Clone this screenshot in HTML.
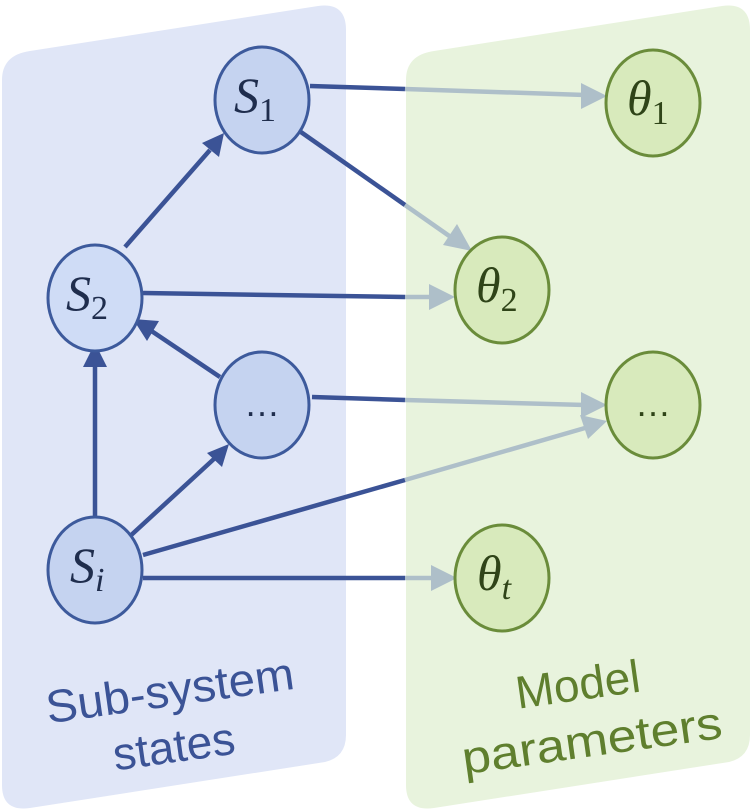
<!DOCTYPE html>
<html><head><meta charset="utf-8"><style>html,body{margin:0;padding:0;background:#fff}svg{display:block}</style></head>
<body>
<svg width="752" height="811" viewBox="0 0 752 811" xmlns="http://www.w3.org/2000/svg">
<path d="M30,51 L318,6 Q346,2 346,30 L346,735 Q346,757 325,762 L30,808 Q2,812 2,785 L2,80 Q2,55 30,51 Z" fill="#e0e6f7"/>
<path d="M434,51 L722,6 Q750,2 750,30 L750,735 Q750,757 729,762 L434,808 Q406,812 406,785 L406,80 Q406,55 434,51 Z" fill="#e8f3dd"/>
<g stroke-width="4.5" fill="none">
<line x1="310" y1="86" x2="405" y2="89" stroke="#3b5396"/><line x1="405" y1="89" x2="585" y2="95" stroke="#aebfc9"/>
<line x1="298" y1="130" x2="405" y2="205" stroke="#3b5396"/><line x1="405" y1="205" x2="455" y2="240" stroke="#aebfc9"/>
<line x1="143" y1="293" x2="405" y2="297" stroke="#3b5396"/><line x1="405" y1="297" x2="433" y2="297" stroke="#aebfc9"/>
<line x1="312" y1="397" x2="405" y2="400" stroke="#3b5396"/><line x1="405" y1="400" x2="585" y2="405" stroke="#aebfc9"/>
<line x1="143" y1="555" x2="405" y2="480" stroke="#3b5396"/><line x1="405" y1="480" x2="585" y2="428" stroke="#aebfc9"/>
<line x1="143" y1="578" x2="405" y2="578" stroke="#3b5396"/><line x1="405" y1="578" x2="435" y2="578" stroke="#aebfc9"/>
<line x1="125" y1="247" x2="210" y2="150" stroke="#3b5396"/>
<line x1="220" y1="377" x2="150" y2="330" stroke="#3b5396"/>
<line x1="95" y1="522" x2="95" y2="365" stroke="#3b5396"/>
<line x1="128" y1="538" x2="215" y2="458" stroke="#3b5396"/>
</g>
<g fill="#aebfc9">
<path d="M607,96 L581,83 L581,109 Z"/>
<path d="M472,251 L443,245 L457,224 Z"/>
<path d="M455,297 L429,284 L429,310 Z"/>
<path d="M607,405 L581,392 L581,418 Z"/>
<path d="M607,421 L580,415 L588,439 Z"/>
<path d="M457,578 L431,565 L431,591 Z"/>
</g>
<g fill="#3b5396">
<path d="M224,133 L202,143 L219,157 Z"/>
<path d="M133,319 L159,321 L147,341 Z"/>
<path d="M95,343 L83,367 L107,367 Z"/>
<path d="M229,444 L207,453 L222,467 Z"/>
</g>
<g stroke-width="3">
<ellipse cx="262" cy="100" rx="47" ry="53" fill="#c5d3f0" stroke="#3d5a9c"/>
<ellipse cx="95" cy="298" rx="47" ry="53" fill="#cfdcf6" stroke="#3d5a9c"/>
<ellipse cx="262" cy="405" rx="47" ry="53" fill="#c5d3f0" stroke="#3d5a9c"/>
<ellipse cx="95" cy="570" rx="47" ry="53" fill="#c5d3f0" stroke="#3d5a9c"/>
<ellipse cx="653" cy="103" rx="47" ry="53" fill="#d8eabc" stroke="#6a8c3a"/>
<ellipse cx="502" cy="290" rx="47" ry="53" fill="#d8eabc" stroke="#6a8c3a"/>
<ellipse cx="653" cy="405" rx="47" ry="53" fill="#d8eabc" stroke="#6a8c3a"/>
<ellipse cx="502" cy="578" rx="47" ry="53" fill="#d8eabc" stroke="#6a8c3a"/>
</g>
<g font-family="Liberation Serif, serif" font-style="italic" font-size="50" fill="#1f2d4d">
<text x="234" y="112">S<tspan font-style="normal" font-size="34" dy="9">1</tspan></text>
<text x="66" y="310">S<tspan font-style="normal" font-size="34" dy="9">2</tspan></text>
<text x="70" y="582">S<tspan font-size="34" dy="9">i</tspan></text>
</g>
<g font-family="Liberation Serif, serif" font-style="italic" font-size="50" fill="#2f4418">
<text x="627" y="115">θ<tspan font-style="normal" font-size="34" dy="9">1</tspan></text>
<text x="476" y="302">θ<tspan font-style="normal" font-size="34" dy="9">2</tspan></text>
<text x="477" y="590">θ<tspan font-size="34" dy="9">t</tspan></text>
</g>
<text x="262" y="416" text-anchor="middle" font-family="Liberation Sans, sans-serif" font-size="36" fill="#1f2d4d">…</text>
<text x="653" y="416" text-anchor="middle" font-family="Liberation Sans, sans-serif" font-size="36" fill="#2f4418">…</text>
<g font-family="Liberation Sans, sans-serif" font-size="46" text-anchor="middle">
<text transform="translate(172,706) rotate(-8)" fill="#3b5396" textLength="250" lengthAdjust="spacingAndGlyphs">Sub-system</text>
<text transform="translate(176,762) rotate(-8)" fill="#3b5396">states</text>
<text transform="translate(580,700) rotate(-8)" fill="#5f7f2e">Model</text>
<text transform="translate(594,756) rotate(-8)" fill="#5f7f2e" textLength="262" lengthAdjust="spacingAndGlyphs">parameters</text>
</g>
</svg>
</body></html>
